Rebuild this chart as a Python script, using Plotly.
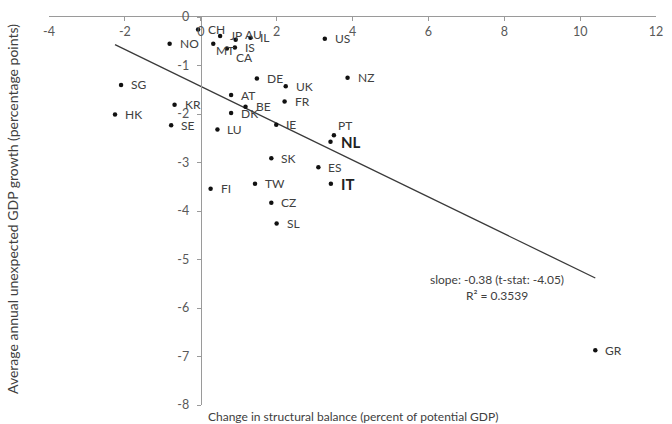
import plotly.graph_objects as go

# Country codes with change in structural balance (x) and unexpected GDP growth (y)
countries = ["CH", "JP", "AU", "IL", "MT", "IS", "CA", "NO", "US", "NZ",
             "SG", "HK", "KR", "SE", "AT", "DK", "BE", "LU", "DE", "UK",
             "FR", "IE", "PT", "NL", "ES", "IT", "SK", "FI", "TW", "CZ",
             "SL", "GR"]
structural_change = [-0.07, 0.51, 0.92, 1.31, 0.33, 0.90, 0.69, -0.82, 3.27, 3.87,
                     -2.10, -2.26, -0.69, -0.78, 0.80, 0.80, 1.18, 0.44, 1.48, 2.24,
                     2.21, 1.99, 3.51, 3.42, 3.10, 3.43, 1.86, 0.26, 1.43, 1.86,
                     2.00, 10.40]
unexpected_growth = [-0.26, -0.39, -0.47, -0.43, -0.55, -0.63, -0.65, -0.55, -0.45, -1.25,
                     -1.40, -2.01, -1.81, -2.23, -1.61, -1.98, -1.85, -2.32, -1.27, -1.43,
                     -1.74, -2.22, -2.44, -2.57, -3.10, -3.44, -2.91, -3.54, -3.44, -3.83,
                     -4.26, -6.87]
highlighted = ["NL", "IT"]

# Regression line reported in the chart
slope = -0.38
t_stat = -4.05
r_squared = 0.3539
intercept = -1.43

x_ticks = [-4, -2, 0, 2, 4, 6, 8, 10, 12]
y_ticks = [0, -1, -2, -3, -4, -5, -6, -7, -8]

FONT = "Lato"
LABEL_COLOR = "#404040"
TICK_COLOR = "#595959"
AXIS_COLOR = "#9a9a9a"

fig = go.Figure()

# Fitted trend across the observed range
x_lo, x_hi = min(structural_change), max(structural_change)
fig.add_trace(go.Scatter(
    x=[x_lo, x_hi],
    y=[intercept + slope * x_lo, intercept + slope * x_hi],
    mode="lines",
    line=dict(color="#3a3a3a", width=1.3),
    hoverinfo="skip",
    showlegend=False,
))

fig.add_trace(go.Scatter(
    x=structural_change,
    y=unexpected_growth,
    mode="markers",
    marker=dict(color="#111111", size=4.5),
    text=countries,
    showlegend=False,
))

# Label placement tweaks (pixel shifts) for crowded points
label_shift = {
    "MT": (1, -7),
    "CA": (7, -9),
    "PT": (2, 10),
    "AU": (7, 5),
}

for c, x, y in zip(countries, structural_change, unexpected_growth):
    xs, ys = label_shift.get(c, (8, 0))
    bold = c in highlighted
    fig.add_annotation(
        x=x, y=y, xref="x", yref="y",
        text=f"<b>{c}</b>" if bold else c,
        showarrow=False, xanchor="left", yanchor="middle",
        xshift=xs, yshift=ys,
        font=dict(family=FONT, size=15 if bold else 12,
                  color="#222222" if bold else LABEL_COLOR),
    )

fig.add_annotation(
    x=7.8, y=-5.58, xref="x", yref="y",
    text=f"slope: {slope:.2f} (t-stat: {t_stat:.2f})<br>R² = {r_squared:.4f}",
    showarrow=False, align="center",
    font=dict(family=FONT, size=12, color=LABEL_COLOR),
)

fig.add_annotation(
    x=0.5, y=0, xref="paper", yref="paper",
    text="Change in structural balance (percent of potential GDP)",
    showarrow=False, xanchor="center", yanchor="top", yshift=-2,
    font=dict(family=FONT, size=12, color=LABEL_COLOR),
)

fig.add_annotation(
    x=0, y=0.5, xref="paper", yref="paper",
    text="Average annual unexpected GDP growth (percentage points)",
    showarrow=False, textangle=-90, xanchor="center", yanchor="middle",
    xshift=-37, yshift=2,
    font=dict(family=FONT, size=14, color=LABEL_COLOR),
)

fig.update_layout(
    width=672, height=424,
    margin=dict(l=49, r=9, t=12, b=19),
    paper_bgcolor="white", plot_bgcolor="white",
    font=dict(family=FONT, color=TICK_COLOR),
    xaxis=dict(
        range=[-4, 12], side="top",
        tickvals=x_ticks, ticktext=[str(v) for v in x_ticks],
        ticks="inside", ticklen=4, tickcolor=AXIS_COLOR,
        ticklabelposition="inside", ticklabeloverflow="allow",
        ticklabelstandoff=6,
        showline=True, linecolor=AXIS_COLOR, linewidth=1,
        showgrid=False, zeroline=False,
        tickfont=dict(family=FONT, size=12.5, color=TICK_COLOR),
    ),
    yaxis=dict(
        range=[-8, 0], anchor="free", position=0.25,
        tickvals=y_ticks, ticktext=[str(v) for v in y_ticks],
        ticks="outside", ticklen=4, tickcolor=AXIS_COLOR,
        ticklabelstandoff=5,
        showline=True, linecolor=AXIS_COLOR, linewidth=1,
        showgrid=False, zeroline=False,
        tickfont=dict(family=FONT, size=12.5, color=TICK_COLOR),
    ),
)

fig.write_html("out.html")
